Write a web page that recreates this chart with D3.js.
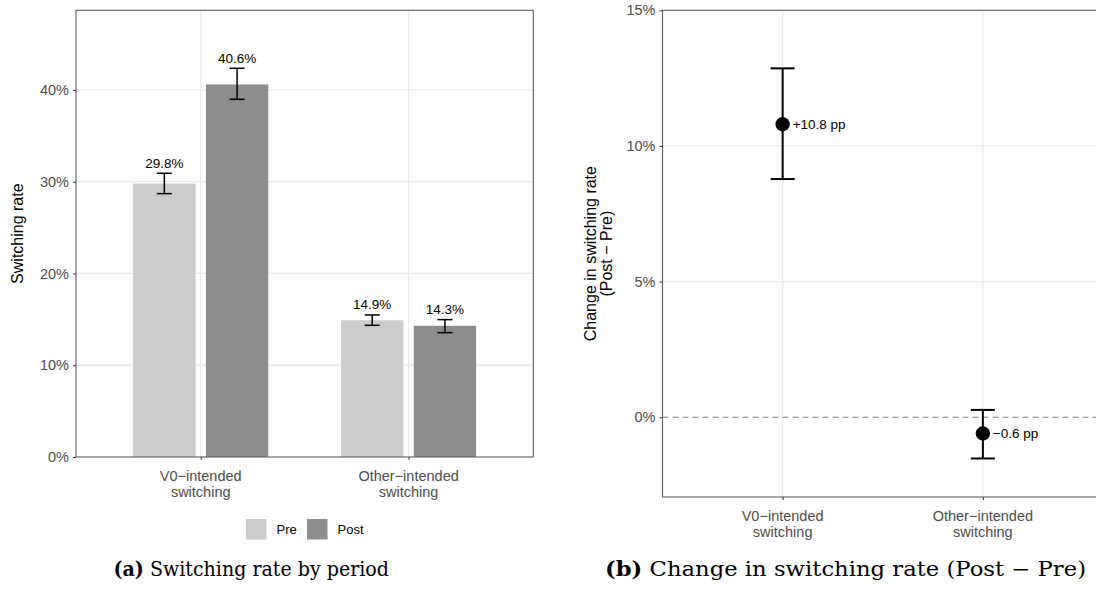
<!DOCTYPE html>
<html>
<head>
<meta charset="utf-8">
<script src="https://cdn.jsdelivr.net/npm/d3@7"></script>
<style>
  html, body { margin: 0; padding: 0; background: #fff; }
  svg { display: block; }
</style>
</head>
<body>
<svg id="chart" width="1096" height="603"></svg>
<script>
// ---------- DATA ----------
const categories = ["V0−intended switching", "Other−intended switching"];
const periods = ["Pre", "Post"];
const preRate  = [29.8, 14.9];
const preLow   = [28.7, 14.35];
const preHigh  = [30.92, 15.48];
const postRate = [40.6, 14.3];
const postLow  = [38.98, 13.55];
const postHigh = [42.36, 14.97];
const diffRate = [10.8, -0.6];
const diffLow  = [8.78, -1.52];
const diffHigh = [12.86, 0.27];
const diffLabels = ["+10.8 pp", "−0.6 pp"];
const yTicksA = [0, 10, 20, 30, 40];
const yTicksB = [0, 5, 10, 15];
const captionA = ["(a)", " Switching rate by period"];
const captionB = ["(b)", " Change in switching rate (Post − Pre)"];

// ---------- STYLE ----------
const SANS = "'Liberation Sans', Arial, Helvetica, sans-serif";
const SERIF = "'DejaVu Serif', 'Liberation Serif', serif";
const GRID = "#ebebeb";
const BORDER = "#5f5f5f";
const TICKTXT = "#4d4d4d";
const periodColor = { Pre: "#cccccc", Post: "#8c8c8c" };

const svg = d3.select("#chart");

function catLines(c) {
  const i = c.indexOf(" ");
  return [c.slice(0, i), c.slice(i + 1)];
}

// ---------- PANEL A ----------
const A = { left: 76, right: 533.3, top: 10.3, bottom: 457 };
const xA = d3.scalePoint().domain(categories).range([A.left, A.right]).padding(0.6);
const stepA = xA.step();
const dodgeA = d3.scaleBand().domain(periods).range([-0.35 * stepA, 0.35 * stepA]);
const barW = 0.3 * stepA;
const yA = d3.scaleLinear().domain([0, 48.68]).range([A.bottom, A.top]);

const gA = svg.append("g");
gA.selectAll("line.hg").data(yTicksA.filter(d => d > 0)).join("line")
  .attr("x1", A.left).attr("x2", A.right)
  .attr("y1", d => yA(d)).attr("y2", d => yA(d))
  .attr("stroke", GRID).attr("stroke-width", 1.3);
gA.selectAll("line.vg").data(categories).join("line")
  .attr("x1", d => xA(d)).attr("x2", d => xA(d))
  .attr("y1", A.top).attr("y2", A.bottom)
  .attr("stroke", GRID).attr("stroke-width", 1.3);

const barData = [];
categories.forEach((c, i) => {
  barData.push({ cat: c, period: "Pre", v: preRate[i], lo: preLow[i], hi: preHigh[i] });
  barData.push({ cat: c, period: "Post", v: postRate[i], lo: postLow[i], hi: postHigh[i] });
});
const bx = d => xA(d.cat) + dodgeA(d.period) + dodgeA.bandwidth() / 2;

gA.selectAll("rect.bar").data(barData).join("rect")
  .attr("x", d => bx(d) - barW / 2)
  .attr("width", barW)
  .attr("y", d => yA(d.v))
  .attr("height", d => yA(0) - yA(d.v))
  .attr("fill", d => periodColor[d.period]);

const capA = 0.072 * stepA / 2;
const eb = gA.selectAll("g.eb").data(barData).join("g");
eb.append("line").attr("x1", bx).attr("x2", bx)
  .attr("y1", d => yA(d.lo)).attr("y2", d => yA(d.hi));
eb.append("line").attr("x1", d => bx(d) - capA).attr("x2", d => bx(d) + capA)
  .attr("y1", d => yA(d.lo)).attr("y2", d => yA(d.lo));
eb.append("line").attr("x1", d => bx(d) - capA).attr("x2", d => bx(d) + capA)
  .attr("y1", d => yA(d.hi)).attr("y2", d => yA(d.hi));
eb.selectAll("line").attr("stroke", "#000").attr("stroke-width", 1.5);

gA.selectAll("text.val").data(barData).join("text")
  .attr("x", bx).attr("y", d => yA(d.hi) - 5.6)
  .attr("text-anchor", "middle")
  .attr("font-family", SANS).attr("font-size", 13.5).attr("fill", "#000")
  .text(d => d3.format(".1f")(d.v) + "%");

gA.append("rect").attr("x", A.left).attr("y", A.top)
  .attr("width", A.right - A.left).attr("height", A.bottom - A.top)
  .attr("fill", "none").attr("stroke", BORDER).attr("stroke-width", 1.1);

const yAxisA = d3.axisLeft(yA).tickValues(yTicksA).tickSize(3).tickPadding(4)
  .tickFormat(d => d + "%");
const gyA = gA.append("g").attr("transform", `translate(${A.left},0)`).call(yAxisA);
gyA.select(".domain").remove();
gyA.selectAll(".tick line").attr("stroke", "#333");
gyA.selectAll(".tick text").attr("font-family", SANS).attr("font-size", 14.5).attr("fill", TICKTXT);

const xAxisA = d3.axisBottom(xA).tickSize(3).tickFormat("");
const gxA = gA.append("g").attr("transform", `translate(0,${A.bottom})`).call(xAxisA);
gxA.select(".domain").remove();
gxA.selectAll(".tick line").attr("stroke", "#333");
categories.forEach(c => {
  const t = gA.append("text").attr("text-anchor", "middle")
    .attr("font-family", SANS).attr("font-size", 14.5).attr("fill", TICKTXT);
  catLines(c).forEach((ln, k) => {
    t.append("tspan").attr("x", xA(c)).attr("y", A.bottom + 24 + k * 15.5).text(ln);
  });
});

gA.append("text")
  .attr("transform", `translate(23,${(A.top + A.bottom) / 2}) rotate(-90)`)
  .attr("text-anchor", "middle")
  .attr("font-family", SANS).attr("font-size", 16).attr("fill", "#000")
  .text("Switching rate");

const legX = 246, legY = 519, key = 20.5;
const leg = gA.append("g");
const legPos = [legX, legX + 61];
periods.forEach((p, i) => {
  leg.append("rect").attr("x", legPos[i]).attr("y", legY).attr("width", key).attr("height", key)
    .attr("fill", periodColor[p]);
  leg.append("text").attr("x", legPos[i] + key + 10).attr("y", legY + key / 2 + 4.6)
    .attr("font-family", SANS).attr("font-size", 13).attr("fill", "#000").text(p);
});

// ---------- PANEL B ----------
const B = { left: 662.5, right: 1103, top: 10.3, bottom: 497 };
const xB = d3.scalePoint().domain(categories).range([B.left, B.right]).padding(0.6);
const stepB = xB.step();
const yB = d3.scaleLinear().domain([-2.94, 15]).range([B.bottom, B.top]);

const gB = svg.append("g");
gB.selectAll("line.hg").data(yTicksB.filter(d => d > 0 && d < 15)).join("line")
  .attr("x1", B.left).attr("x2", B.right)
  .attr("y1", d => yB(d)).attr("y2", d => yB(d))
  .attr("stroke", GRID).attr("stroke-width", 1.3);
gB.selectAll("line.vg").data(categories).join("line")
  .attr("x1", d => xB(d)).attr("x2", d => xB(d))
  .attr("y1", B.top).attr("y2", B.bottom)
  .attr("stroke", GRID).attr("stroke-width", 1.3);

gB.append("line").attr("x1", B.left).attr("x2", B.right)
  .attr("y1", yB(0)).attr("y2", yB(0))
  .attr("stroke", "#808080").attr("stroke-width", 1.1).attr("stroke-dasharray", "6,4");

const diffData = categories.map((c, i) => ({ cat: c, v: diffRate[i], lo: diffLow[i], hi: diffHigh[i], lab: diffLabels[i] }));
const capB = 0.12 * stepB / 2;
const ebB = gB.selectAll("g.eb").data(diffData).join("g");
ebB.append("line").attr("x1", d => xB(d.cat)).attr("x2", d => xB(d.cat))
  .attr("y1", d => yB(d.lo)).attr("y2", d => yB(d.hi));
ebB.append("line").attr("x1", d => xB(d.cat) - capB).attr("x2", d => xB(d.cat) + capB)
  .attr("y1", d => yB(d.lo)).attr("y2", d => yB(d.lo));
ebB.append("line").attr("x1", d => xB(d.cat) - capB).attr("x2", d => xB(d.cat) + capB)
  .attr("y1", d => yB(d.hi)).attr("y2", d => yB(d.hi));
ebB.selectAll("line").attr("stroke", "#000").attr("stroke-width", 2);

gB.selectAll("circle.pt").data(diffData).join("circle")
  .attr("cx", d => xB(d.cat)).attr("cy", d => yB(d.v)).attr("r", 7.2).attr("fill", "#000");

gB.selectAll("text.lab").data(diffData).join("text")
  .attr("x", d => xB(d.cat) + 10).attr("y", d => yB(d.v) + 4.6)
  .attr("font-family", SANS).attr("font-size", 13.5).attr("fill", "#000")
  .text(d => d.lab);

gB.append("rect").attr("x", B.left).attr("y", B.top)
  .attr("width", B.right - B.left).attr("height", B.bottom - B.top)
  .attr("fill", "none").attr("stroke", BORDER).attr("stroke-width", 1.1);

const yAxisB = d3.axisLeft(yB).tickValues(yTicksB).tickSize(3).tickPadding(4)
  .tickFormat(d => d + "%");
const gyB = gB.append("g").attr("transform", `translate(${B.left},0)`).call(yAxisB);
gyB.select(".domain").remove();
gyB.selectAll(".tick line").attr("stroke", "#333");
gyB.selectAll(".tick text").attr("font-family", SANS).attr("font-size", 14.5).attr("fill", TICKTXT);

const xAxisB = d3.axisBottom(xB).tickSize(3).tickFormat("");
const gxB = gB.append("g").attr("transform", `translate(0,${B.bottom})`).call(xAxisB);
gxB.select(".domain").remove();
gxB.selectAll(".tick line").attr("stroke", "#333");
categories.forEach(c => {
  const t = gB.append("text").attr("text-anchor", "middle")
    .attr("font-family", SANS).attr("font-size", 14.5).attr("fill", TICKTXT);
  catLines(c).forEach((ln, k) => {
    t.append("tspan").attr("x", xB(c)).attr("y", B.bottom + 24 + k * 15.5).text(ln);
  });
});

const tB = gB.append("text")
  .attr("transform", `translate(0,${(B.top + B.bottom) / 2}) rotate(-90)`)
  .attr("text-anchor", "middle")
  .attr("font-family", SANS).attr("font-size", 16).attr("fill", "#000");
tB.append("tspan").attr("x", 0).attr("y", 596).text("Change in switching rate");
tB.append("tspan").attr("x", 0).attr("y", 611.5).text("(Post − Pre)");

// ---------- CAPTIONS ----------
function caption(parts, x, y, w) {
  const t = svg.append("text").attr("x", x).attr("y", y)
    .attr("font-family", SERIF).attr("font-size", 20.5).attr("fill", "#000")
    .attr("textLength", w).attr("lengthAdjust", "spacingAndGlyphs");
  t.append("tspan").attr("font-weight", "bold").text(parts[0]);
  t.append("tspan").text(parts[1]);
}
caption(captionA, 113.5, 575.5, 275.5);
caption(captionB, 605, 575.5, 481);
</script>
</body>
</html>
